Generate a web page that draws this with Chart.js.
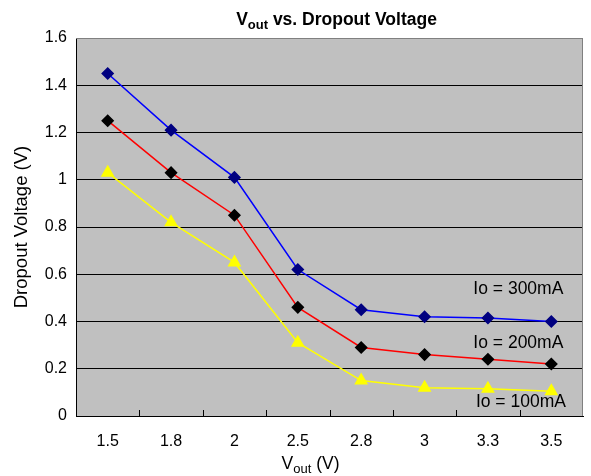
<!DOCTYPE html>
<html>
<head>
<meta charset="utf-8">
<title>Vout vs. Dropout Voltage</title>
<script src="https://cdn.jsdelivr.net/npm/chart.js@4"></script>
<style>
  body { margin: 0; background: #fff; }
  canvas { display: block; }
</style>
</head>
<body>
<canvas id="dropoutChart" width="591" height="476"></canvas>
<script>
"use strict";

// values
const vout = ["1.5", "1.8", "2", "2.5", "2.8", "3", "3.3", "3.5"];
const io300 = [1.45, 1.21, 1.01, 0.62, 0.45, 0.42, 0.415, 0.40];
const io200 = [1.25, 1.03, 0.85, 0.46, 0.29, 0.26, 0.24, 0.22];
const io100 = [1.03, 0.82, 0.65, 0.31, 0.15, 0.12, 0.115, 0.105];
const yTicks = [0, 0.2, 0.4, 0.6, 0.8, 1, 1.2, 1.4, 1.6];
const curveNames = ["Io = 300mA", "Io = 200mA", "Io = 100mA"];
// where the curve names sit, in axis units (category index, volts)
const nameAt = [[6.48, 0.535], [6.48, 0.31], [6.52, 0.06]];

const FONT = "Arial, 'Liberation Sans', sans-serif";

// draws "main" with a subscript part, centred on x
function subText(ctx, x, y, main, sub, rest, size, subSize, weight) {
  ctx.save();
  ctx.textBaseline = "alphabetic";
  ctx.textAlign = "left";
  ctx.fillStyle = "#000";
  let f1 = `${weight} ${size}px ${FONT}`;
  let f2 = `${weight} ${subSize}px ${FONT}`;
  ctx.font = f1;
  let w1 = ctx.measureText(main).width;
  let w3 = ctx.measureText(rest).width;
  ctx.font = f2;
  let w2 = ctx.measureText(sub).width;
  let left = x - (w1 + w2 + w3) / 2;
  ctx.font = f1;
  ctx.fillText(main, left, y);
  ctx.font = f2;
  ctx.fillText(sub, left + w1, y + size * 0.22);
  ctx.font = f1;
  ctx.fillText(rest, left + w1 + w2, y);
  ctx.restore();
}

const decor = {
  id: "decor",
  beforeDraw(chart) {
    const { ctx, chartArea: a } = chart;
    ctx.save();
    ctx.fillStyle = "#fff";
    ctx.fillRect(0, 0, chart.width, chart.height);
    ctx.fillStyle = "#c0c0c0";
    ctx.fillRect(a.left, a.top, a.right - a.left, a.bottom - a.top);
    ctx.restore();
  },
  beforeDatasetsDraw(chart) {
    const { ctx, chartArea: a, scales } = chart;
    const x = scales.x;
    ctx.save();
    // grey frame on top and right
    ctx.strokeStyle = "#808080";
    ctx.lineWidth = 1;
    ctx.beginPath();
    ctx.moveTo(a.left, a.top + 0.5);
    ctx.lineTo(a.right - 0.5, a.top + 0.5);
    ctx.lineTo(a.right - 0.5, a.bottom);
    ctx.stroke();
    // tick marks between categories, pointing inwards
    ctx.strokeStyle = "#000";
    ctx.beginPath();
    for (let i = 0; i < vout.length - 1; i++) {
      let px = Math.round((x.getPixelForValue(i) + x.getPixelForValue(i + 1)) / 2) + 0.5;
      ctx.moveTo(px, a.bottom);
      ctx.lineTo(px, a.bottom - 6);
    }
    ctx.stroke();
    ctx.restore();
  },
  afterDraw(chart) {
    const { ctx, chartArea: a, scales } = chart;
    ctx.save();
    ctx.fillStyle = "#000";
    ctx.textAlign = "center";
    ctx.textBaseline = "middle";
    ctx.font = `17.5px ${FONT}`;
    curveNames.forEach(function (name, i) {
      ctx.fillText(name, scales.x.getPixelForValue(nameAt[i][0]), scales.y.getPixelForValue(nameAt[i][1]));
    });

    // titles
    let mid = (a.left + a.right) / 2;
    subText(ctx, mid + 7, 25, "V", "out", " vs. Dropout Voltage", 17.5, 13, "bold");
    subText(ctx, mid - 19, 469, "V", "out", " (V)", 17.5, 13, "normal");

    ctx.translate(27, (a.top + a.bottom) / 2);
    ctx.rotate(-Math.PI / 2);
    ctx.font = `18.5px ${FONT}`;
    ctx.textBaseline = "alphabetic";
    ctx.fillText("Dropout Voltage (V)", 0, 0);
    ctx.restore();
  }
};

new Chart(document.getElementById("dropoutChart").getContext("2d"), {
  type: "line",
  data: {
    labels: vout,
    datasets: [
      {
        label: curveNames[0],
        data: io300,
        borderColor: "#0000ff",
        borderWidth: 1.5,
        pointStyle: "rectRot",
        pointRadius: 5.5,
        pointBackgroundColor: "#000080",
        pointBorderColor: "#000080",
        tension: 0
      },
      {
        label: curveNames[1],
        data: io200,
        borderColor: "#ff0000",
        borderWidth: 1.5,
        pointStyle: "rectRot",
        pointRadius: 5.5,
        pointBackgroundColor: "#000",
        pointBorderColor: "#000",
        tension: 0
      },
      {
        label: curveNames[2],
        data: io100,
        borderColor: "#ffff00",
        borderWidth: 1.5,
        pointStyle: "triangle",
        pointRadius: 6.5,
        pointBackgroundColor: "#ffff00",
        pointBorderColor: "#ffff00",
        tension: 0
      }
    ]
  },
  options: {
    responsive: false,
    animation: false,
    layout: { padding: { top: 38, right: -1, left: 0, bottom: 0 } },
    plugins: {
      legend: { display: false },
      title: { display: false },
      tooltip: { enabled: false }
    },
    scales: {
      x: {
        offset: true,
        grid: { display: false },
        border: { color: "#000", width: 1 },
        ticks: { color: "#000", font: { family: FONT, size: 16 }, padding: 8 },
        afterFit: function (s) { s.height = 60; s.paddingLeft = 0; s.paddingRight = 0; }
      },
      y: {
        min: 0,
        max: 1.6,
        afterBuildTicks: function (s) { s.ticks = yTicks.map(v => ({ value: v })); },
        grid: {
          color: c => (c.tick && c.tick.value === 1.6 ? "#808080" : "#000"),
          lineWidth: 1,
          drawTicks: false
        },
        border: { color: "#000", width: 1 },
        ticks: {
          color: "#000",
          font: { family: FONT, size: 16 },
          padding: 9,
          callback: v => String(v)
        },
        afterFit: function (s) { s.width = 76; s.paddingTop = 0; s.paddingBottom = 0; }
      }
    }
  },
  plugins: [decor]
});
</script>
</body>
</html>
